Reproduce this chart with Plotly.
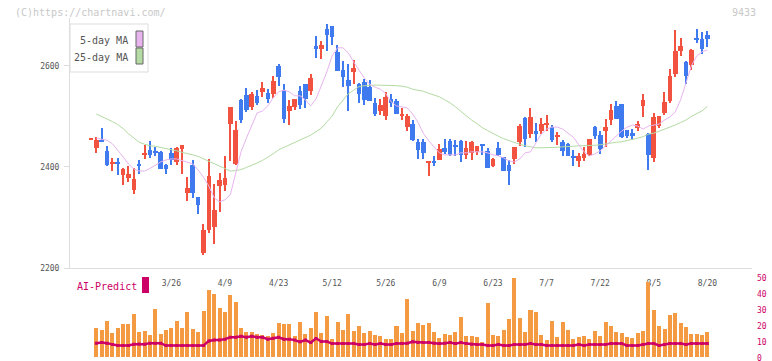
import pandas as pd
import plotly.graph_objects as go

# ---------------- data ----------------
holidays = ["2025-03-20", "2025-04-29", "2025-05-05", "2025-05-06", "2025-07-21", "2025-08-11"]
days = pd.bdate_range("2025-03-04", "2025-08-20", freq="C", holidays=holidays)
dates = [d.strftime("%Y-%m-%d") for d in days]

opens = [2455, 2438, 2453, 2432, 2405, 2410, 2385, 2379, 2355, 2406, 2424, 2434, 2432, 2430, 2404, 2428,
         2410, 2436, 2349, 2404, 2341, 2230, 2275, 2281, 2362, 2364, 2485, 2406, 2533, 2543, 2519, 2541,
         2549, 2547, 2545, 2600, 2552, 2511, 2519, 2551, 2564, 2551, 2640, 2634, 2673, 2679, 2628, 2592,
         2572, 2588, 2564, 2568, 2558, 2527, 2510, 2500, 2535, 2531, 2500, 2480, 2485, 2450, 2450, 2407,
         2411, 2414, 2438, 2452, 2442, 2452, 2424, 2428, 2430, 2446, 2432, 2402, 2438, 2420, 2404, 2416,
         2450, 2497, 2465, 2471, 2471, 2483, 2479, 2459, 2450, 2446, 2420, 2412, 2418, 2424, 2479, 2463,
         2471, 2493, 2521, 2525, 2473, 2467, 2477, 2521, 2465, 2418, 2481, 2507, 2531, 2584, 2630, 2608,
         2602, 2655, 2653, 2661]
highs = [2457, 2459, 2477, 2442, 2417, 2418, 2398, 2402, 2398, 2414, 2444, 2452, 2440, 2432, 2406, 2438,
         2440, 2444, 2380, 2414, 2341, 2287, 2416, 2366, 2388, 2422, 2519, 2491, 2535, 2556, 2549, 2552,
         2568, 2554, 2580, 2604, 2564, 2533, 2535, 2560, 2564, 2584, 2659, 2650, 2683, 2679, 2642, 2610,
         2603, 2611, 2566, 2574, 2572, 2537, 2535, 2549, 2545, 2535, 2517, 2505, 2493, 2455, 2455, 2412,
         2422, 2446, 2455, 2455, 2453, 2453, 2452, 2452, 2442, 2446, 2438, 2418, 2450, 2420, 2414, 2440,
         2485, 2499, 2517, 2487, 2497, 2503, 2483, 2469, 2453, 2448, 2434, 2428, 2440, 2455, 2481, 2471,
         2495, 2525, 2531, 2525, 2473, 2475, 2491, 2545, 2467, 2507, 2501, 2549, 2594, 2671, 2655, 2610,
         2634, 2673, 2667, 2669]
lows = [2454, 2427, 2450, 2402, 2393, 2385, 2365, 2371, 2347, 2386, 2416, 2418, 2422, 2396, 2386, 2404,
        2404, 2386, 2333, 2339, 2307, 2226, 2269, 2248, 2311, 2353, 2412, 2404, 2488, 2509, 2513, 2523,
        2539, 2527, 2537, 2560, 2487, 2483, 2513, 2515, 2517, 2543, 2616, 2614, 2630, 2642, 2590, 2558,
        2510, 2565, 2527, 2523, 2531, 2500, 2502, 2493, 2519, 2504, 2493, 2471, 2452, 2415, 2416, 2383,
        2401, 2414, 2426, 2422, 2422, 2410, 2416, 2414, 2424, 2424, 2398, 2400, 2422, 2393, 2364, 2406,
        2442, 2440, 2457, 2450, 2465, 2471, 2450, 2444, 2422, 2422, 2402, 2400, 2412, 2422, 2455, 2426,
        2440, 2483, 2495, 2457, 2457, 2453, 2471, 2499, 2394, 2410, 2477, 2503, 2527, 2578, 2620, 2564,
        2592, 2646, 2624, 2638]
closes = [2456, 2453, 2450, 2403, 2409, 2405, 2396, 2386, 2376, 2401, 2428, 2424, 2428, 2396, 2396, 2414,
          2438, 2444, 2358, 2349, 2325, 2275, 2382, 2315, 2374, 2378, 2519, 2473, 2493, 2513, 2545, 2527,
          2556, 2535, 2570, 2578, 2495, 2521, 2535, 2523, 2535, 2576, 2634, 2642, 2661, 2657, 2590, 2578,
          2561, 2596, 2545, 2533, 2531, 2504, 2523, 2539, 2527, 2504, 2505, 2500, 2453, 2433, 2428, 2412,
          2409, 2436, 2430, 2424, 2440, 2424, 2438, 2450, 2442, 2442, 2398, 2416, 2424, 2393, 2393, 2440,
          2481, 2455, 2499, 2465, 2485, 2487, 2453, 2463, 2432, 2422, 2418, 2422, 2426, 2455, 2461, 2436,
          2479, 2513, 2495, 2459, 2461, 2461, 2485, 2533, 2424, 2499, 2501, 2529, 2580, 2630, 2640, 2580,
          2632, 2651, 2634, 2653]

ma5 = [None, 2457, 2455, 2453, 2446, 2434, 2420, 2406, 2396, 2392, 2392, 2397, 2404, 2410, 2414, 2416,
       2416, 2413, 2409, 2406, 2394, 2380, 2362, 2339, 2331, 2335, 2345, 2390, 2430, 2457, 2483, 2507,
       2511, 2521, 2537, 2549, 2552, 2549, 2541, 2541, 2533, 2521, 2535, 2560, 2588, 2620, 2636, 2636,
       2626, 2608, 2592, 2576, 2564, 2558, 2554, 2545, 2529, 2521, 2519, 2517, 2505, 2489, 2467, 2452,
       2440, 2428, 2424, 2424, 2424, 2428, 2428, 2430, 2430, 2430, 2428, 2424, 2422, 2418, 2412, 2410,
       2416, 2428, 2430, 2448, 2465, 2475, 2479, 2479, 2475, 2467, 2459, 2444, 2430, 2422, 2426, 2432,
       2442, 2451, 2463, 2471, 2479, 2483, 2481, 2475, 2481, 2483, 2485, 2493, 2499, 2509, 2533, 2566,
       2600, 2620, 2628, 2632]
ma25 = [None, 2505, 2500, 2496, 2490, 2484, 2476, 2466, 2458, 2449, 2445, 2442, 2441, 2439, 2437, 2435,
        2432, 2429, 2427, 2424, 2421, 2416, 2411, 2407, 2402, 2397, 2392, 2393, 2395, 2399, 2403, 2408,
        2413, 2419, 2426, 2434, 2439, 2443, 2448, 2453, 2458, 2463, 2470, 2477, 2489, 2501, 2519, 2533,
        2545, 2552, 2559, 2561, 2562, 2562, 2562, 2562, 2561, 2561, 2560, 2558, 2554, 2552, 2550, 2546,
        2543, 2539, 2533, 2527, 2519, 2510, 2501, 2493, 2486, 2478, 2472, 2466, 2461, 2456, 2452, 2448,
        2445, 2442, 2440, 2438, 2438, 2438, 2439, 2439, 2440, 2440, 2441, 2442, 2442, 2443, 2443, 2444,
        2446, 2448, 2449, 2450, 2452, 2454, 2457, 2460, 2465, 2467, 2471, 2474, 2479, 2483, 2488, 2493,
        2500, 2506, 2511, 2520]

volume = [None, 18.4, 17.2, 22.8, 15.3, 18.4, 20.9, 20.9, 27.2, 16.1, 16.6, 14.1, 30.3, 14.7, 17.2, 18.4,
          22.8, 18.4, 28.4, 17.8, 16.1, 29.1, 42.2, 39.7, 30.9, 28.4, 39.1, 34.7, 18.4, 16.1, 16.1, 14.7,
          14.1, 13.4, 15.3, 21.6, 20.9, 20.9, 13.4, 22.2, 14.7, 18.4, 28.4, 15.3, 25.9, 11.6, 22.2, 17.2,
          27.2, 16.6, 19.7, 15.3, 16.6, 14.1, 13.4, 11.6, 11.6, 19.7, 15.3, 36.6, 16.6, 21.6, 20.3, 21.6,
          15.9, 12.2, 14.7, 14.1, 15.9, 25.3, 13.4, 13.4, 12.8, 9.7, 34.1, 14.1, 13.4, 17.2, 24.1, 49.7,
          24.7, 15.9, 29.7, 28.4, 14.1, 10.9, 22.8, 12.8, 22.2, 17.2, 11.6, 12.8, 13.4, 11.6, 16.6, 13.4,
          22.2, 19.7, 15.9, 15.3, 12.8, 12.2, 15.3, 16.6, 47.2, 29.7, 19.7, 17.8, 26.6, 27.8, 21.6, 19.1,
          14.7, 14.7, 14.1, 15.9]
ai_predict = [None, 9.1, 9.5, 9.1, 8.2, 7.6, 7.6, 7.6, 8.4, 8.6, 8.4, 9.1, 9.1, 9.1, 7.6, 7.6,
              7.6, 7.6, 7.6, 7.6, 7.6, 7.6, 10.5, 11.0, 11.0, 11.6, 12.8, 12.8, 13.4, 12.8, 13.4, 12.8,
              12.8, 11.6, 12.2, 12.8, 11.6, 11.6, 11.0, 9.9, 11.0, 9.5, 12.0, 10.1, 10.1, 8.8, 8.8, 8.8,
              8.8, 8.8, 8.2, 8.2, 8.8, 8.2, 8.8, 8.2, 8.2, 8.8, 8.8, 9.1, 9.9, 9.5, 9.5, 9.5,
              9.1, 8.8, 9.1, 9.5, 8.8, 9.5, 8.8, 8.4, 8.2, 8.2, 7.6, 7.6, 8.2, 7.6, 7.6, 8.2,
              8.2, 8.2, 8.8, 8.2, 8.2, 7.6, 7.6, 7.6, 7.6, 7.6, 7.6, 8.2, 7.6, 8.2, 8.2, 8.2,
              8.2, 8.8, 8.8, 8.8, 7.6, 7.6, 7.6, 8.2, 8.8, 8.8, 7.6, 8.2, 8.8, 8.8, 8.8, 8.2,
              8.8, 8.8, 8.8, 8.8]

tick_labels = ["3/26", "4/9", "4/23", "5/12", "5/26", "6/9", "6/23", "7/7", "7/22", "8/5", "8/20"]
price_ticks = [2200, 2400, 2600]
ai_ticks = [0, 10, 20, 30, 40, 50]

# ---------------- styling ----------------
W, H = 772, 361
FONT = "DejaVu Sans Mono"
UP, DOWN = "#f25240", "#3f7bef"
MA5_C, MA25_C = "#e7b4ee", "#b3dba3"
VOL_C, AI_C = "#f39a42", "#cc0066"
AX_C = "#dddddd"

def px(x):
    return x / W

def py(y):
    return 1 - y / H

label_dates = []
for lab in tick_labels:
    m, d = lab.split("/")
    label_dates.append(f"2025-{int(m):02d}-{int(d):02d}")

n = len(dates)
step = (707.4 - 96.3) / 114.0
x0_px = 90.94
xr = [-(x0_px - 70) / step, -(x0_px - 70) / step + (752 - 70) / step]

fig = go.Figure()

for color, is_up in ((UP, True), (DOWN, False)):
    idx = [i for i in range(n) if (closes[i] >= opens[i]) == is_up]
    xs = [dates[i] for i in idx]
    fig.add_trace(go.Bar(x=xs, base=[lows[i] for i in idx], y=[highs[i] - lows[i] for i in idx],
                         width=0.2, marker=dict(color=color, line=dict(width=0)),
                         xaxis="x", yaxis="y", hoverinfo="skip", showlegend=False))
for color, is_up in ((UP, True), (DOWN, False)):
    idx = [i for i in range(n) if (closes[i] >= opens[i]) == is_up]
    xs = [dates[i] for i in idx]
    fig.add_trace(go.Bar(x=xs, base=[min(opens[i], closes[i]) for i in idx],
                         y=[max(abs(closes[i] - opens[i]), 1.6) for i in idx],
                         width=0.86, marker=dict(color=color, line=dict(width=0)),
                         xaxis="x", yaxis="y", showlegend=False))

fig.add_trace(go.Scatter(x=dates, y=ma25, mode="lines", line=dict(color=MA25_C, width=1),
                         xaxis="x", yaxis="y", showlegend=False))
fig.add_trace(go.Scatter(x=dates, y=ma5, mode="lines", line=dict(color=MA5_C, width=1),
                         xaxis="x", yaxis="y", showlegend=False))

fig.add_trace(go.Bar(x=dates, y=volume, width=0.75, marker=dict(color=VOL_C, line=dict(width=0)),
                     xaxis="x2", yaxis="y2", showlegend=False))
fig.add_trace(go.Scatter(x=dates, y=ai_predict, mode="lines+markers",
                         line=dict(color=AI_C, width=2.5), marker=dict(symbol="square", size=3, color=AI_C),
                         xaxis="x2", yaxis="y2", showlegend=False))

main_dom = [py(268), py(18)]
vol_dom = [py(359.5), py(270.3)]
p_top = 2200 + (268 - 18) * 1.98
v_bot = -(359.5 - 357.7) / 1.6
v_top = (357.7 - 270.3) / 1.6

common = dict(automargin=False, showgrid=False, zeroline=False)
fig.update_layout(
    template="none",
    width=W, height=H, margin=dict(l=0, r=0, t=0, b=0, pad=0),
    paper_bgcolor="white", plot_bgcolor="white", barmode="overlay", bargap=0,
    showlegend=False, font=dict(family=FONT, size=8, color="#555555"),
    xaxis=dict(domain=[px(70), px(752)], anchor="y", type="category", categoryorder="array",
               categoryarray=dates, range=xr,
               showline=True, linecolor=AX_C, linewidth=1, ticks="",
               tickvals=label_dates, ticktext=tick_labels, ticklabelstandoff=7,
               tickfont=dict(family=FONT, size=8, color="#555555"), **common),
    xaxis2=dict(domain=[px(70), px(752)], anchor="y2", type="category", categoryorder="array",
                categoryarray=dates, range=xr,
                showline=False, showticklabels=False, ticks="", **common),
    xaxis3=dict(domain=[px(70), px(752)], anchor="y", overlaying="x", range=[0, 11],
                tickvals=list(range(12)), ticks="outside", ticklen=6, tickcolor=AX_C,
                showticklabels=False, showline=False, **common),
    xaxis4=dict(domain=[px(70), px(752)], anchor="y", overlaying="x", range=[0, 11],
                tickvals=list(range(12)), ticks="inside", ticklen=3, tickcolor=AX_C,
                showticklabels=False, showline=False, **common),
    yaxis=dict(domain=main_dom, anchor="x", range=[2200, p_top], tickvals=price_ticks,
               ticks="outside", ticklen=5, tickcolor=AX_C, showline=True, linecolor=AX_C,
               ticklabelstandoff=3,
               tickfont=dict(family=FONT, size=8, color="#555555"), **common),
    yaxis3=dict(domain=main_dom, anchor="x", overlaying="y", range=[2200, p_top], tickvals=price_ticks,
                ticks="inside", ticklen=3, tickcolor=AX_C, showticklabels=False,
                showline=False, **common),
    yaxis2=dict(domain=vol_dom, anchor="x2", side="right", range=[v_bot, v_top], tickvals=ai_ticks,
                ticks="", showline=False, ticklabelstandoff=4, ticklabeloverflow="allow",
                tickfont=dict(family=FONT, size=8, color=AI_C), **common),
)

shapes = [
    dict(type="rect", xref="paper", yref="paper", x0=px(70), x1=px(148), y0=py(72), y1=py(24),
         line=dict(color="#dddddd", width=1), fillcolor="white", layer="above"),
    dict(type="rect", xref="paper", yref="paper", x0=px(136), x1=px(143), y0=py(47), y1=py(31),
         line=dict(color="#666666", width=1), fillcolor=MA5_C, layer="above"),
    dict(type="rect", xref="paper", yref="paper", x0=px(136), x1=px(143), y0=py(64), y1=py(48),
         line=dict(color="#666666", width=1), fillcolor=MA25_C, layer="above"),
    dict(type="rect", xref="paper", yref="paper", x0=px(142), x1=px(149), y0=py(293), y1=py(277),
         line=dict(width=0), fillcolor=AI_C, layer="above"),
]
annos = [
    dict(text="5-day MA", x=px(130), y=py(40), xanchor="right", yanchor="middle",
         font=dict(family=FONT, size=10, color="#555555")),
    dict(text="25-day MA", x=px(130), y=py(57), xanchor="right", yanchor="middle",
         font=dict(family=FONT, size=10, color="#555555")),
    dict(text="AI-Predict", x=px(75), y=py(286), xanchor="left", yanchor="middle",
         font=dict(family=FONT, size=10, color=AI_C)),
    dict(text="(C)https://chartnavi.com/", x=px(13), y=py(12), xanchor="left", yanchor="middle",
         font=dict(family=FONT, size=10, color="#c8c8c8")),
    dict(text="9433", x=px(758), y=py(12), xanchor="right", yanchor="middle",
         font=dict(family=FONT, size=10, color="#c8c8c8")),
]
for a in annos:
    a.update(xref="paper", yref="paper", showarrow=False)
fig.update_layout(shapes=shapes, annotations=annos)

fig.write_html("out.html", config={"displayModeBar": False},
               post_script="document.body.style.margin='0';document.body.style.overflow='hidden';")
